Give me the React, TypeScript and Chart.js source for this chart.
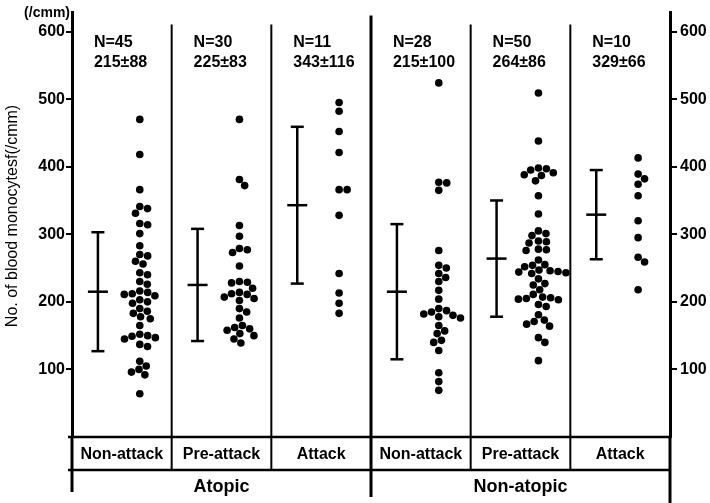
import { useEffect, useRef } from 'react';
import { Chart, registerables } from 'chart.js';

Chart.register(...registerables);

// ---------- data ----------
const categories = ['Non-attack', 'Pre-attack', 'Attack', 'Non-attack', 'Pre-attack', 'Attack'];
const groups = ['Atopic', 'Non-atopic'];
const groupSpans = [3, 3];
const counts = [45, 30, 11, 28, 50, 10];
const means = [215, 225, 343, 215, 264, 329];
const sds = [88, 83, 116, 100, 86, 66];
const yTicks = [100, 200, 300, 400, 500, 600];
const yAxisTitle = 'No. of blood monocytesf(/cmm)';
const unitLabel = '(/cmm)';

const atopicNonAttack = [470, 418, 366, 341, 338, 331, 316, 314, 301, 283, 270, 268, 260, 256, 243, 240, 230, 226, 216, 214, 212, 211, 209, 203, 200, 198, 190, 186, 183, 178, 175, 165, 152, 150, 149, 147, 145, 137, 134, 112, 105, 100, 96, 92, 64];
const atopicPreAttack = [470, 381, 372, 313, 297, 279, 277, 273, 253, 230, 229, 228, 220, 214, 212, 211, 207, 205, 202, 190, 185, 176, 165, 162, 160, 158, 153, 150, 145, 139];
const atopicAttack = [495, 482, 452, 421, 366, 366, 328, 242, 213, 198, 183];
const nonAtopicNonAttack = [524, 377, 376, 365, 276, 254, 250, 242, 236, 230, 217, 204, 190, 187, 185, 182, 180, 178, 176, 165, 157, 153, 143, 140, 128, 95, 82, 69];
const nonAtopicPreAttack = [509, 438, 398, 397, 395, 391, 388, 387, 379, 357, 330, 305, 301, 298, 290, 289, 287, 278, 277, 276, 262, 255, 254, 252, 247, 246, 245, 244, 243, 242, 234, 227, 225, 218, 211, 207, 206, 205, 204, 203, 196, 193, 181, 173, 171, 167, 164, 147, 140, 113];
const nonAtopicAttack = [413, 389, 382, 374, 357, 320, 295, 266, 259, 218];

const seriesValues = [atopicNonAttack, atopicPreAttack, atopicAttack, nonAtopicNonAttack, nonAtopicPreAttack, nonAtopicAttack];

// ---------- layout / style ----------
const W = 710;
const H = 503;
const Y_MAX = 628;
const ERR_POS = 0.26;
const DOT_POS = 0.68;
const TEXT_POS = 0.22;
const DOT_R = 3.8;
const DOT_GAP = 8;
const FONT = '"Liberation Sans", Arial, sans-serif';

function swarmOffsets(values: number[], yScale: any, D: number): number[] {
  const ys = values.map((v) => yScale.getPixelForValue(v));
  const order = ys.map((_, i) => i).sort((a, b) => ys[a] - ys[b]);
  const placed: { x: number; y: number }[] = [];
  const out = new Array(values.length).fill(0);
  for (const i of order) {
    const yi = ys[i];
    const cands = [0];
    for (const p of placed) {
      const dy = Math.abs(p.y - yi);
      if (dy < D) {
        const dx = Math.sqrt(D * D - dy * dy);
        cands.push(p.x + dx, p.x - dx);
      }
    }
    cands.sort((a, b) => Math.abs(a) - Math.abs(b));
    let best = 0;
    for (const c of cands) {
      if (placed.every((p) => (p.x - c) ** 2 + (p.y - yi) ** 2 >= D * D - 0.01)) {
        best = c;
        break;
      }
    }
    placed.push({ x: best, y: yi });
    out[i] = best;
  }
  return out;
}

const figurePlugin = {
  id: 'figure',
  afterDraw(chart: any) {
    const { ctx, chartArea: a } = chart;
    const x = chart.scales.x;
    const y = chart.scales.y;
    const n = categories.length;
    const xs = Array.from({ length: n + 1 }, (_, i) => x.getPixelForValue(i));
    const y0 = y.getPixelForValue(0);
    const rowBottom = y0 + 33;
    const line = (x1: number, y1: number, x2: number, y2: number, w: number) => {
      ctx.lineWidth = w;
      ctx.beginPath();
      ctx.moveTo(x1, y1);
      ctx.lineTo(x2, y2);
      ctx.stroke();
    };
    ctx.save();
    ctx.strokeStyle = '#000';
    ctx.fillStyle = '#000';
    ctx.lineCap = 'butt';

    // column separators
    let acc = 0;
    const groupEdges = groupSpans.map((s) => (acc += s));
    for (let i = 1; i < n; i++) {
      if (groupEdges.includes(i)) line(xs[i], a.top + 3, xs[i], H - 6, 3);
      else line(xs[i], a.top + 12, xs[i], rowBottom, 2);
    }
    // table
    line(xs[0] - 4, y0, xs[n], y0, 2.5);
    line(xs[0] - 4, rowBottom, xs[n], rowBottom, 2.5);
    line(xs[0], y0, xs[0], H - 11, 3);
    line(xs[n], y0, xs[n], H, 3);

    // category labels
    ctx.textAlign = 'center';
    ctx.textBaseline = 'middle';
    ctx.font = `bold 16px ${FONT}`;
    categories.forEach((c, i) => ctx.fillText(c, (xs[i] + xs[i + 1]) / 2, (y0 + rowBottom) / 2 + 1));
    // group labels
    ctx.font = `bold 18px ${FONT}`;
    let start = 0;
    groups.forEach((g, gi) => {
      const end = start + groupSpans[gi];
      ctx.fillText(g, (xs[start] + xs[end]) / 2, rowBottom + 17);
      start = end;
    });

    // header texts
    ctx.textAlign = 'left';
    ctx.font = `bold 16px ${FONT}`;
    counts.forEach((c, i) => {
      const tx = x.getPixelForValue(i + TEXT_POS);
      ctx.fillText(`N=${c}`, tx, a.top + 30);
      ctx.fillText(`${means[i]}\u00B1${sds[i]}`, tx, a.top + 50);
    });

    // error bars (mean ± SD)
    means.forEach((m, i) => {
      const ex = x.getPixelForValue(i + ERR_POS);
      const yt = y.getPixelForValue(m + sds[i]);
      const yb = y.getPixelForValue(m - sds[i]);
      const ym = y.getPixelForValue(m);
      line(ex, yt, ex, yb, 2.5);
      line(ex - 6.5, yt, ex + 6.5, yt, 2.5);
      line(ex - 6.5, yb, ex + 6.5, yb, 2.5);
      line(ex - 10, ym, ex + 10, ym, 2.5);
    });

    // axis title
    ctx.save();
    ctx.translate(13, 216);
    ctx.rotate(-Math.PI / 2);
    ctx.textAlign = 'center';
    ctx.font = `16px ${FONT}`;
    ctx.fillText(yAxisTitle, 0, 0);
    ctx.restore();

    // unit label
    ctx.textAlign = 'right';
    ctx.font = `bold 14px ${FONT}`;
    ctx.fillText(unitLabel, 70, 13);
    ctx.restore();
  },
};

export default function App() {
  const ref = useRef<HTMLCanvasElement | null>(null);
  useEffect(() => {
    if (!ref.current) return;
    const axisCommon = (pos: 'left' | 'right', width: number, tickLen: number, pad: number) => ({
      type: 'linear' as const,
      position: pos,
      min: 0,
      max: Y_MAX,
      afterBuildTicks: (s: any) => {
        s.ticks = yTicks.map((v) => ({ value: v }));
      },
      afterFit: (s: any) => {
        s.width = width;
      },
      border: { display: true, width: 3, color: '#000' },
      grid: { display: true, drawOnChartArea: false, drawTicks: true, tickLength: tickLen, lineWidth: 2, color: '#000' },
      ticks: { color: '#000', padding: pad, font: { family: FONT, size: 16, weight: 'bold' as const } },
    });
    const chart = new Chart(ref.current, {
      type: 'scatter',
      data: {
        datasets: seriesValues.map((vals, i) => ({
          label: categories[i],
          data: vals.map((v) => ({ x: i + DOT_POS, y: v })),
          backgroundColor: '#000',
          borderWidth: 0,
          pointRadius: DOT_R,
          pointHoverRadius: DOT_R,
          yAxisID: 'y',
        })),
      },
      options: {
        animation: false,
        responsive: false,
        events: [],
        layout: { padding: { top: 12, bottom: 66, left: 0, right: 0 } },
        plugins: { legend: { display: false }, tooltip: { enabled: false } },
        scales: {
          x: { type: 'linear', min: 0, max: categories.length, display: false },
          y: axisCommon('left', 72, 6, 1),
          y2: axisCommon('right', 40, 7, 3),
        },
      },
      plugins: [figurePlugin],
    });
    const xs = chart.scales.x;
    const pxPerUnit = xs.getPixelForValue(1) - xs.getPixelForValue(0);
    chart.data.datasets.forEach((ds: any, i: number) => {
      const offs = swarmOffsets(seriesValues[i], chart.scales.y, DOT_GAP);
      ds.data = seriesValues[i].map((v, k) => ({ x: i + DOT_POS + offs[k] / pxPerUnit, y: v }));
    });
    chart.update();
    return () => chart.destroy();
  }, []);
  return (
    <div style={{ position: 'absolute', left: 0, top: 0, width: W, height: H, background: '#fff' }}>
      <canvas ref={ref} width={W} height={H} style={{ width: W, height: H }} />
    </div>
  );
}
